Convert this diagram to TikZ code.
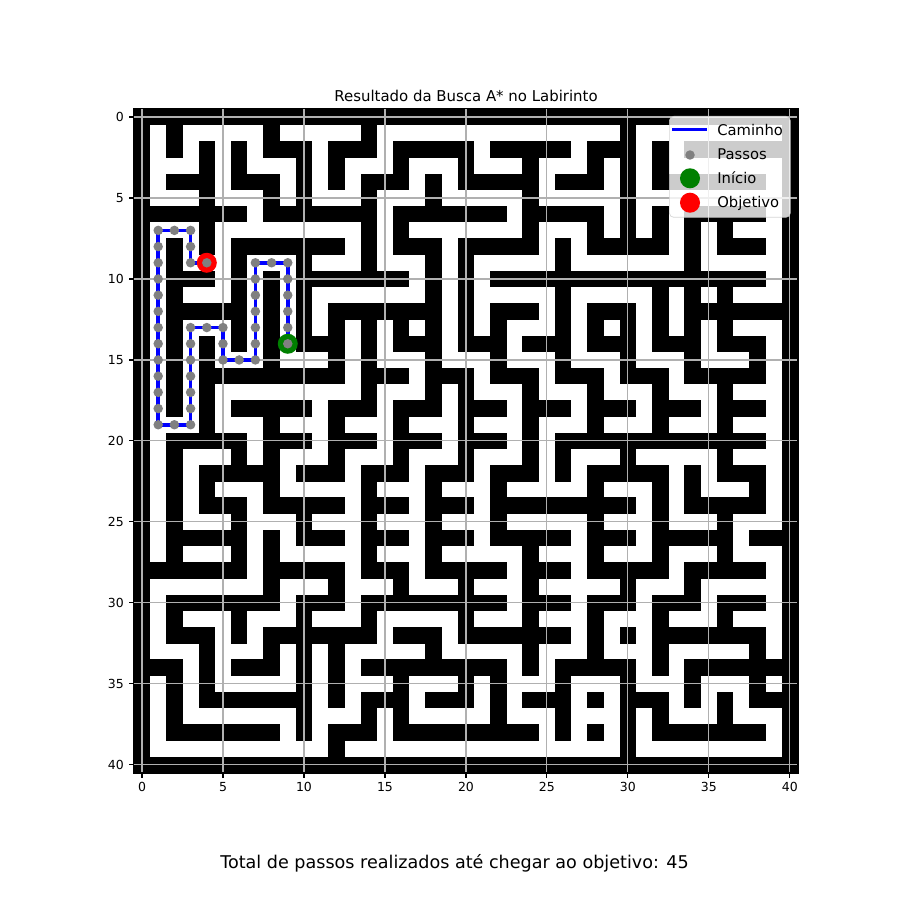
\documentclass[tikz,border=0pt]{standalone}
\usepackage{fontspec}
\setmainfont{DejaVu Sans}
\usetikzlibrary{positioning}

% one maze row: 1 = wall, 0 = free
\newcount\mazecol
\def\mazescan#1{\ifx#1\relax\else
  \ifx#11\fill[wall] (\the\mazecol-0.51,\mazerow-0.51) rectangle ++(1.02,1.02);\fi
  \global\advance\mazecol by 1\relax
  \expandafter\mazescan\fi}

\begin{document}
\begin{tikzpicture}[x=0.02cm, y=-0.02cm,
  wall/.style={fill=black},
  gridline/.style={draw=black!31, line width=0.63pt},
  axisframe/.style={draw=black, line width=0.63pt},
  tickmark/.style={draw=black, line width=0.63pt},
  ticklab/.style={font=\fontsize{7.1}{8}\selectfont, inner sep=0pt},
  route/.style={draw=blue, line width=2pt},
  stepdot/.style={circle, fill=gray, inner sep=0pt, minimum size=5.4pt},
  startmark/.style={circle, fill=green!50!black, inner sep=0pt, minimum size=11.4pt},
  goalmark/.style={circle, fill=red, inner sep=0pt, minimum size=11.4pt},
  legbox/.style={draw=black!20, fill=white, fill opacity=0.8, draw opacity=0.8, rounded corners=2.5pt, inner sep=0pt},
  legtext/.style={anchor=base west, font=\fontsize{8.4}{10}\selectfont, inner sep=0pt}
]
\useasboundingbox (0,0) rectangle (909,909);
\fill[white] (0,0) rectangle (909,909);

\node[font=\fontsize{8.5}{10}\selectfont, anchor=base] (title) at (466,101.5) {Resultado da Busca A* no Labirinto};

\begin{scope}[shift={(142,117)}, x=0.324cm, y=-0.324cm]
  % maze
  \begin{scope}
    \clip (-0.5,-0.5) rectangle (40.5,40.5);
    \foreach \mazeline [count=\mazerow from 0] in {
      1111111111 1111111111 1111111111 1111111111 1,
      1010000010 0000100000 0000000000 1000000000 1,
      1010101011 1011101111 1011111011 1010111111 1,
      1000101000 1010001000 1000100010 1010000000 1,
      1011101110 1010111010 1111101110 1011111110 1,
      1000100010 1000100010 0000100000 1000000000 1,
      1111111011 1111101111 1110111110 1010111110 1,
      1000100000 0000101000 0000100010 1010101000 1,
      1010101111 1110101110 1111101011 1110101110 1,
      1010001000 1000100010 1000001000 0000100000 1,
      1011101010 1111111010 1011111111 1111111110 1,
      1010001010 1000000010 1000001000 0010101000 1,
      1011111010 1011111110 1011101011 1010111111 1,
      1010001010 1010101010 1010001010 1010101000 1,
      1010101010 1110101110 1110111011 1011101110 1,
      1010100010 0010100010 0010001000 1000100010 1,
      1010111111 1110111011 1011101110 1110111110 1,
      1010100000 0000100010 1000100010 0010001000 1,
      1010101111 1011101110 1110111011 1011101110 1,
      1000100010 0010001000 1000100010 0010001000 1,
      1011111011 1011101110 1110101111 1111111110 1,
      1010001010 0010001000 1000101000 1000001000 1,
      1010111110 1110111011 1011101011 1110101110 1,
      1010100010 0000100010 0010000010 0010100010 1,
      1010111011 1110111011 1011111111 1010111110 1,
      1010001000 1000100010 0010000010 0010001000 1,
      1011111010 1110111011 1011111011 1011111011 1,
      1010001010 0000100010 0000100010 0010001000 1,
      1111111011 1110111011 1110111011 1110111110 1,
      1000000010 0010001000 1000100000 1000100000 1,
      1011111110 1110111111 1110111011 1011101110 1,
      1010001000 1000100000 1000100010 0010001000 1,
      1011101011 1111101110 1111111010 1011111110 1,
      1000100010 1010000010 0000100010 0010000010 1,
      1110101110 1010111111 1110101111 1010111111 1,
      1010100000 1010001000 1010001000 1000100010 1,
      1010111111 1010111011 1010111010 1110101011 1,
      1010000000 1000101000 0010001000 1010001000 1,
      1011111110 1011101111 1111101010 1011111110 1,
      1000000000 0010000000 0000000000 1000000000 1,
      1111111111 1111111111 1111111111 1111111111 1}
      {\global\mazecol=0 \expandafter\mazescan\mazeline\relax}
  \end{scope}

  % grid and axes
  \foreach \t in {0,5,...,40} {
    \draw[gridline] (\t,-0.5) -- (\t,40.5);
    \draw[gridline] (-0.5,\t) -- (40.5,\t);
  }
  \draw[axisframe] (-0.5,-0.5) rectangle (40.5,40.5);
  \foreach \t in {0,5,...,40} {
    \draw[tickmark] (\t,40.5) -- (\t,40.81);
    \draw[tickmark] (-0.5,\t) -- (-0.81,\t);
    \node[ticklab, anchor=north] (xt\t) at (\t,41.08) {\t};
    \node[ticklab, anchor=east] (yt\t) at (-1.1,\t) {\t};
  }

  % route found by A*
  \foreach \c/\r [count=\i from 0] in {9/14, 9/13, 9/12, 9/11, 9/10, 9/9, 8/9, 7/9,
      7/10, 7/11, 7/12, 7/13, 7/14, 7/15, 6/15, 5/15, 5/14, 5/13, 4/13, 3/13,
      3/14, 3/15, 3/16, 3/17, 3/18, 3/19, 2/19, 1/19, 1/18, 1/17, 1/16, 1/15,
      1/14, 1/13, 1/12, 1/11, 1/10, 1/9, 1/8, 1/7, 2/7, 3/7, 3/8, 3/9, 4/9}
    \coordinate (s\i) at (\c,\r);
  \draw[route] (s0) \foreach \i in {1,...,44} { -- (s\i) };
  \node[startmark] (start) at (s0) {};
  \node[goalmark] (goal) at (s44) {};
  \foreach \i in {0,...,44} \node[stepdot] (d\i) at (s\i) {};
\end{scope}

% legend
\node[legbox, anchor=north west, minimum width=2.42cm, minimum height=2.02cm] (legend) at (669,116) {};
\coordinate (lgA) at (672,129.7);
\coordinate (lgB) at (707,129.7);
\draw[route] (lgA) -- (lgB);
\node[stepdot] (lgstep) at (690,155) {};
\node[startmark] (lgstart) at (690,178.3) {};
\node[goalmark] (lggoal) at (690,202.7) {};
\node[legtext] (lgroute) at (717,135) {Caminho};
\node[legtext] (lgsteps) at (717,159) {Passos};
\node[legtext] (lgbegin) at (717,183) {Início};
\node[legtext] (lgend) at (717,207.3) {Objetivo};

\node[font=\fontsize{10}{12}\selectfont, anchor=base] (total) at (454.5,868) {Total de passos realizados até chegar ao objetivo: 45};
\end{tikzpicture}
\end{document}
